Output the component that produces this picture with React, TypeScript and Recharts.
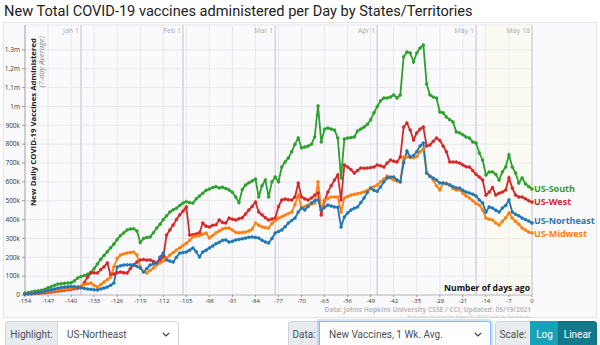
import React from "react";
import {
  LineChart,
  Line,
  XAxis,
  YAxis,
  CartesianGrid,
  ReferenceLine,
  ReferenceArea,
  LabelList,
} from "recharts";

// days ago, -154 .. 0
const days = Array.from({ length: 155 }, (_, i) => i - 154);

// thousands of doses per day (7-day avg)
const usSouth = [
  10, 13, 16, 20, 22, 25, 30, 38, 45, 52,
  58, 60, 62, 64, 65, 75, 90, 98, 103, 110,
  120, 140, 165, 190, 210, 230, 250, 270, 295, 315,
  330, 345, 350, 352, 340, 278, 300, 305, 308, 330,
  355, 375, 400, 420, 440, 452, 460, 475, 488, 495,
  490, 488, 510, 525, 540, 555, 562, 570, 575, 568,
  572, 565, 557, 545, 520, 490, 560, 584, 595, 605,
  615, 520, 580, 610, 520, 600, 626, 600, 679, 705,
  727, 760, 800, 833, 780, 785, 790, 800, 838, 1003,
  812, 880, 886, 880, 875, 833, 621, 828, 833, 835,
  838, 870, 880, 891, 905, 930, 966, 1000, 1030, 1045,
  1045, 1050, 1061, 1045, 1061, 1263, 1289, 1284, 1236, 1284,
  1310, 1326, 1119, 1061, 1050, 1045, 971, 966, 944, 930,
  918, 865, 860, 850, 838, 833, 812, 806, 753, 716,
  637, 653, 653, 640, 610, 653, 679, 743, 679, 647,
  594, 621, 590, 575, 562,
];

const usWest = [
  5, 6, 7, 8, 9, 10, 12, 14, 16, 18,
  20, 22, 25, 28, 30, 33, 36, 40, 65, 95,
  117, 118, 117, 135, 150, 170, 106, 112, 118, 122,
  118, 117, 140, 160, 175, 186, 188, 185, 186, 178,
  170, 185, 202, 318, 345, 371, 400, 425, 445, 467,
  318, 320, 324, 330, 382, 365, 361, 370, 372, 398,
  385, 382, 408, 402, 398, 405, 410, 430, 451, 470,
  493, 440, 425, 410, 398, 403, 408, 470, 504, 509,
  505, 504, 520, 594, 520, 510, 504, 515, 530, 541,
  424, 500, 546, 580, 610, 637, 504, 690, 679, 665,
  647, 660, 674, 672, 674, 676, 679, 690, 685, 679,
  700, 716, 710, 706, 732, 891, 912, 875, 822, 860,
  880, 891, 790, 796, 815, 833, 820, 790, 760, 706,
  706, 705, 700, 690, 680, 679, 660, 640, 626, 610,
  530, 546, 570, 530, 540, 546, 557, 621, 568, 530,
  520, 520, 510, 500, 493,
];

const usNortheast = [
  5, 6, 8, 10, 13, 16, 20, 24, 28, 32,
  36, 40, 42, 44, 45, 44, 42, 38, 35, 32,
  30, 28, 27, 32, 37, 42, 52, 64, 149, 155,
  159, 160, 160, 159, 152, 143, 122, 140, 159, 165,
  170, 200, 223, 186, 180, 175, 200, 223, 225, 228,
  238, 249, 230, 202, 228, 238, 249, 260, 272, 280,
  290, 292, 281, 285, 292, 295, 298, 302, 306, 308,
  305, 302, 290, 281, 276, 300, 329, 337, 345, 362,
  382, 395, 408, 440, 461, 451, 470, 488, 500, 504,
  451, 465, 477, 472, 467, 465, 361, 414, 435, 451,
  460, 467, 490, 515, 545, 568, 555, 550, 573, 600,
  620, 626, 626, 610, 600, 700, 764, 732, 740, 760,
  790, 806, 647, 630, 620, 610, 594, 594, 590, 584,
  575, 568, 568, 555, 546, 541, 535, 525, 504, 488,
  440, 467, 461, 450, 440, 461, 475, 504, 440, 428,
  420, 408, 400, 392, 382,
];

const usMidwest = [
  5, 7, 9, 11, 13, 15, 17, 19, 21, 23,
  25, 27, 30, 32, 35, 38, 42, 48, 55, 60,
  64, 50, 42, 55, 69, 82, 95, 150, 195, 212,
  218, 223, 226, 228, 212, 149, 125, 117, 130, 143,
  159, 170, 180, 195, 212, 225, 239, 250, 262, 275,
  290, 308, 312, 316, 322, 329, 302, 315, 330, 340,
  350, 355, 355, 345, 332, 330, 332, 334, 340, 350,
  382, 370, 361, 358, 355, 380, 395, 408, 415, 424,
  432, 440, 480, 530, 461, 470, 477, 482, 488, 600,
  451, 504, 512, 520, 520, 520, 440, 515, 522, 530,
  534, 538, 541, 548, 555, 565, 575, 584, 600, 615,
  631, 620, 610, 605, 600, 732, 732, 730, 728, 735,
  760, 775, 647, 630, 610, 580, 557, 594, 590, 584,
  565, 557, 557, 540, 525, 515, 500, 485, 477, 451,
  408, 402, 398, 382, 371, 390, 410, 435, 408, 390,
  375, 355, 345, 334, 329,
];

const xTicks = [
  -154, -147, -140, -133, -126, -119, -112, -105, -98, -91, -84, -77,
  -70, -63, -56, -49, -42, -35, -28, -21, -14, -7, 0,
];
const yTicks = [0, 100, 200, 300, 400, 500, 600, 700, 800, 900, 1000, 1100, 1200, 1300];

const months = [
  { label: "Jan 1", day: -137 },
  { label: "Feb 1", day: -106 },
  { label: "Mar 1", day: -78 },
  { label: "Apr 1", day: -47 },
  { label: "May 1", day: -17 },
  { label: "May 18", day: 0 },
];

const series = [
  { key: "south", name: "US-South", color: "#2ca02c", dy: 0 },
  { key: "west", name: "US-West", color: "#d62728", dy: 0 },
  { key: "midwest", name: "US-Midwest", color: "#ff7f0e", dy: 1.5 },
  { key: "northeast", name: "US-Northeast", color: "#1f77b4", dy: -1.5 },
];

const data = days.map((day, i) => ({
  day,
  south: usSouth[i],
  west: usWest[i],
  northeast: usNortheast[i],
  midwest: usMidwest[i],
}));

const fmtY = (v: number) => (v === 0 ? "0" : v >= 1000 ? `${v / 1000}m` : `${v}k`);

const chartFont = "'Open Sans', sans-serif";

function MonthLabel(props: any) {
  const vb = props.viewBox || {};
  return (
    <text
      x={vb.x - 2}
      y={vb.y + 8}
      textAnchor="end"
      fontSize={7}
      fill="#aaa"
      fontFamily={chartFont}
    >
      {props.text}
    </text>
  );
}

function endLabel(name: string, color: string, dy: number) {
  return (p: any) => {
    if (p.index !== days.length - 1) return null;
    return (
      <text
        x={p.x + 2}
        y={p.y + 3 + dy}
        fontSize={9}
        fontWeight={700}
        fill={color}
        fontFamily={chartFont}
      >
        {name}
      </text>
    );
  };
}

function Box(props: { left: number; width: number; children?: any; style?: any }) {
  return (
    <div
      style={{
        position: "absolute",
        left: props.left,
        top: 321,
        width: props.width,
        height: 26,
        boxSizing: "border-box",
        border: "1px solid #ced4da",
        display: "flex",
        alignItems: "center",
        fontSize: 10,
        color: "#495057",
        ...props.style,
      }}
    >
      {props.children}
    </div>
  );
}

function Chevron() {
  return (
    <svg width={8} height={6} style={{ position: "absolute", right: 8, top: 10 }}>
      <path d="M1 1 L4 4 L7 1" stroke="#444" strokeWidth={1.2} fill="none" />
    </svg>
  );
}

export default function App() {
  return (
    <div
      style={{
        position: "absolute",
        left: 0,
        top: 0,
        width: 600,
        height: 345,
        overflow: "hidden",
        background: "#fff",
        fontFamily: "Roboto, sans-serif",
      }}
    >
      <div style={{ position: "absolute", left: 4, top: 2, fontSize: 14.6, color: "#222" }}>
        New Total COVID-19 vaccines administered per Day by States/Territories
      </div>
      <div
        style={{
          position: "absolute",
          left: 3,
          top: 22,
          width: 594,
          height: 296,
          boxSizing: "border-box",
          border: "1px solid #e4e4e8",
          background: "#fafafc",
        }}
      />
      <div style={{ position: "absolute", left: 0, top: 0 }}>
        <LineChart
          width={600}
          height={318}
          data={data}
          margin={{ top: 25, right: 68, bottom: 10, left: 0 }}
        >
          <ReferenceArea x1={-14} x2={0} fill="#fbfbe4" fillOpacity={0.35} stroke="none" />
          <CartesianGrid stroke="#e6e6ee" strokeWidth={1} />
          <XAxis
            type="number"
            dataKey="day"
            domain={[-154, 0]}
            ticks={xTicks}
            interval={0}
            height={13}
            tickSize={2}
            tick={{ fontSize: 6, fill: "#333", fontFamily: chartFont }}
            tickLine={{ stroke: "#999" }}
            axisLine={{ stroke: "#bbb" }}
          />
          <YAxis
            type="number"
            domain={[0, 1432]}
            ticks={yTicks}
            interval={0}
            width={25}
            tickSize={3}
            tickFormatter={fmtY}
            tick={{ fontSize: 6.5, fill: "#333", fontFamily: chartFont }}
            tickLine={{ stroke: "#999" }}
            axisLine={{ stroke: "#aaa" }}
          />
          {months.map((m) => (
            <ReferenceLine
              key={m.label}
              x={m.day}
              stroke="#d4d4da"
              strokeWidth={1.5}
              label={<MonthLabel text={m.label} />}
            />
          ))}
          {series.map((s) => (
            <Line
              key={s.key}
              type="linear"
              dataKey={s.key}
              stroke={s.color}
              strokeWidth={1.8}
              dot={{ r: 1.5, fill: s.color, stroke: s.color, strokeWidth: 0.5 }}
              isAnimationActive={false}
            >
              <LabelList dataKey={s.key} content={endLabel(s.name, s.color, s.dy)} />
            </Line>
          ))}
        </LineChart>
      </div>
      <svg
        width={600}
        height={345}
        style={{ position: "absolute", left: 0, top: 0, pointerEvents: "none" }}
        fontFamily={chartFont}
      >
        <text
          transform="translate(36,38) rotate(-90)"
          textAnchor="end"
          fontSize={7.8}
          fontWeight={700}
          fill="#222"
        >
          New Daily COVID-19 Vaccines Administered
        </text>
        <text
          transform="translate(44,36) rotate(-90)"
          textAnchor="end"
          fontSize={7.6}
          fontStyle="italic"
          fill="#888"
        >
          (7-day Average)
        </text>
        <text x={530} y={291} textAnchor="end" fontSize={8.6} fontWeight={700} fill="#111">
          Number of days ago
        </text>
        <text x={531} y={312} textAnchor="end" fontSize={6.6} fontWeight={700} fill="#bbb">
          Data: Johns Hopkins University CSSE / CCI; Updated: 05/19/2021
        </text>
        <text x={531} y={318} textAnchor="end" fontSize={4.2} fill="#bbb">
          Interactive Visualization: https://91-DIVOC.com/ by @profwade_
        </text>
      </svg>

      <Box left={5} width={53} style={{ background: "#e9ecef", borderRadius: "3px 0 0 3px", justifyContent: "center" }}>
        Highlight:
      </Box>
      <Box left={57} width={122} style={{ background: "#fff", paddingLeft: 9, borderRadius: "0 3px 3px 0" }}>
        US-Northeast
        <Chevron />
      </Box>
      <Box left={288} width={32} style={{ background: "#e9ecef", borderRadius: "3px 0 0 3px", justifyContent: "center" }}>
        Data:
      </Box>
      <Box
        left={319}
        width={172}
        style={{
          background: "#fff",
          paddingLeft: 9,
          border: "1px solid #80bdff",
          boxShadow: "0 0 0 2px rgba(0,123,255,0.2)",
          borderRadius: "0 3px 3px 0",
        }}
      >
        New Vaccines, 1 Wk. Avg.
        <Chevron />
      </Box>
      <Box left={495} width={36} style={{ background: "#e9ecef", borderRadius: "3px 0 0 3px", justifyContent: "center" }}>
        Scale:
      </Box>
      <Box
        left={530}
        width={29}
        style={{ background: "#17a2b8", border: "1px solid #17a2b8", color: "#fff", justifyContent: "center" }}
      >
        Log
      </Box>
      <Box
        left={558}
        width={39}
        style={{
          background: "#117a8b",
          border: "1px solid #10707f",
          color: "#fff",
          justifyContent: "center",
          borderRadius: "0 3px 3px 0",
        }}
      >
        Linear
      </Box>
    </div>
  );
}
